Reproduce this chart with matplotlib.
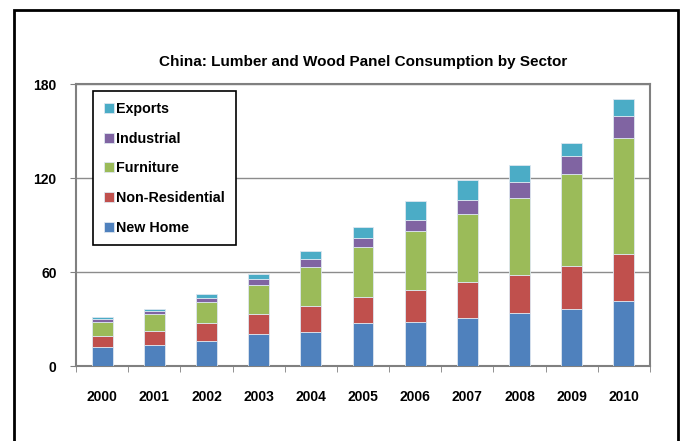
import matplotlib.pyplot as plt
import matplotlib.patches as mpatches
import numpy as np

plt.rcParams['font.family'] = ['Liberation Sans', 'DejaVu Sans']

# data
years = ["2000", "2001", "2002", "2003", "2004", "2005",
         "2006", "2007", "2008", "2009", "2010"]
new_home = [12.1, 13.4, 16.1, 20.4, 21.4, 27.2, 28.2, 30.6, 33.8, 36.5, 41.6]
non_residential = [7.2, 9.1, 11.1, 12.5, 17.0, 16.7, 20.0, 22.7, 24.6, 27.2, 30.1]
furniture = [8.5, 10.4, 13.6, 19.1, 25.1, 31.9, 38.2, 43.9, 49.0, 58.6, 73.7]
industrial = [2.1, 2.5, 2.9, 3.8, 5.1, 5.7, 6.8, 8.5, 10.2, 11.9, 14.0]
exports = [1.3, 1.3, 2.4, 2.8, 5.1, 7.4, 11.9, 13.0, 10.6, 8.2, 10.8]

series = [
    ("New Home", new_home, "#4F81BD"),
    ("Non-Residential", non_residential, "#C0504D"),
    ("Furniture", furniture, "#9BBB59"),
    ("Industrial", industrial, "#8064A2"),
    ("Exports", exports, "#4BACC6"),
]

fig = plt.figure(figsize=(6.8, 4.41), dpi=100)

# outer black frame
fig.patches.append(mpatches.Rectangle((14 / 680, -0.1), (678 - 14) / 680, 1.1 - 10 / 441,
                                      transform=fig.transFigure, fill=False,
                                      edgecolor="black", linewidth=2))

ax = fig.add_axes([76 / 680, 1 - 366 / 441, (650 - 76) / 680, (366 - 84) / 441])

x = np.arange(len(years))
bottom = np.zeros(len(years))
handles = []
for name, vals, color in series:
    b = ax.bar(x, vals, width=0.4, bottom=bottom, color=color,
               edgecolor="#dde6f0", linewidth=0.6, label=name, zorder=3)
    handles.append(b)
    bottom += np.array(vals)

ax.set_xlim(-0.5, len(years) - 0.5)
ax.set_ylim(0, 180)
ax.set_yticks([0, 60, 120, 180])
ax.set_yticklabels(["0", "60", "120", "180"], fontsize=10, fontweight="bold")
ax.set_xticks(x)
ax.set_xticklabels(years, fontsize=10, fontweight="bold")
ax.set_xticks(np.arange(-0.5, len(years)), minor=True)
ax.tick_params(axis="x", which="major", length=0, pad=17)
ax.tick_params(axis="x", which="minor", length=4, color="#808080", direction="out")
ax.tick_params(axis="y", length=4, color="#808080", pad=10)

ax.grid(axis="y", color="#8c8c8c", linewidth=1, zorder=0)
for s in ax.spines.values():
    s.set_color("#808080")
    s.set_linewidth(1.5)

ax.set_title("China: Lumber and Wood Panel Consumption by Sector",
             fontsize=11, fontweight="bold", pad=13)

leg = ax.legend(handles[::-1], [s[0] for s in series][::-1],
                loc="upper left", bbox_to_anchor=(0.03, 0.975), borderaxespad=0,
                prop={"weight": "bold", "size": 10.3}, fancybox=False,
                edgecolor="black", framealpha=1, handlelength=0.7, handleheight=0.7,
                handletextpad=0.15, labelspacing=1.1, borderpad=0.75)
leg.get_frame().set_linewidth(1.2)

fig.savefig("out.png", dpi=100)
